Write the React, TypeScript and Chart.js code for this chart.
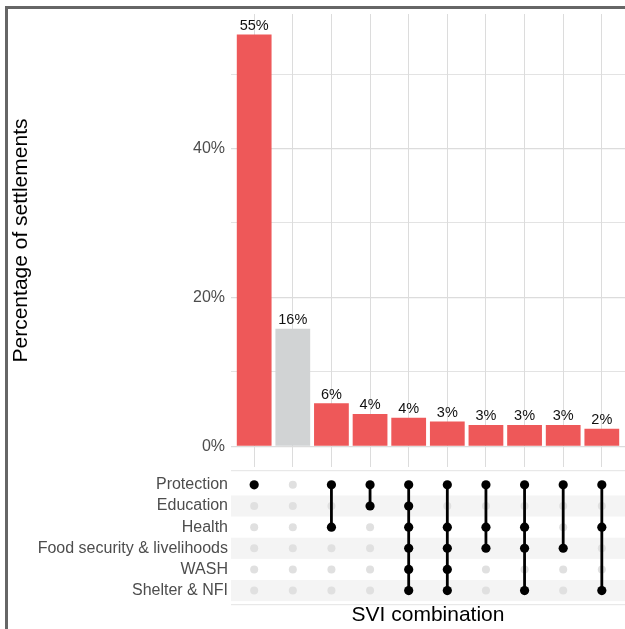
import React, { useEffect, useRef } from "react";
import { Chart, registerables } from "chart.js";

Chart.register(...registerables);

// Share of settlements for each SVI combination (%)
const shares = [55.3, 15.8, 5.8, 4.35, 3.85, 3.36, 2.87, 2.87, 2.87, 2.38];

// Sectors shown as rows of the combination matrix (top to bottom)
const sectors = [
  "Protection",
  "Education",
  "Health",
  "Food security & livelihoods",
  "WASH",
  "Shelter & NFI",
];

// Sectors making up each combination, in bar order
const combos: string[][] = [
  ["Protection"],
  [],
  ["Protection", "Health"],
  ["Protection", "Education"],
  ["Protection", "Education", "Health", "Food security & livelihoods", "WASH", "Shelter & NFI"],
  ["Protection", "Health", "Food security & livelihoods", "WASH", "Shelter & NFI"],
  ["Protection", "Health", "Food security & livelihoods"],
  ["Protection", "Health", "Food security & livelihoods", "Shelter & NFI"],
  ["Protection", "Food security & livelihoods"],
  ["Protection", "Health", "Shelter & NFI"],
];

// Y-axis ticks (%): gridlines every 10, labels every 20
const yGridTicks = [0, 10, 20, 30, 40, 50];
const yLabelTicks = [0, 20, 40];

const FONT = "'Liberation Sans', Arial, Helvetica, sans-serif";
const RED = "#EE5859";
const GREY = "#D1D3D4";
const GRID = "#dcdcdc";
const AXIS_TEXT = "#4d4d4d";

const WIDTH = 625;
const BAR_H = 467;
const MATRIX_H = 162;
const AXIS_W = 231;

const positions = shares.map((_, i) => i + 1);
const X_MIN = 0.4;
const X_MAX = shares.length + 0.6;
const yTop = Math.max(...shares);
const yPad = yTop * 0.05;

const valueLabels = {
  id: "valueLabels",
  afterDatasetsDraw(chart: any) {
    const ctx = chart.ctx;
    const meta = chart.getDatasetMeta(0);
    ctx.save();
    ctx.font = `14.5px ${FONT}`;
    ctx.fillStyle = "#111";
    ctx.textAlign = "center";
    ctx.textBaseline = "alphabetic";
    meta.data.forEach((el: any, i: number) => {
      ctx.fillText(`${Math.round(shares[i])}%`, el.x, el.y - 4.6);
    });
    ctx.restore();
  },
};

const matrixBands = {
  id: "matrixBands",
  beforeDatasetsDraw(chart: any) {
    const { ctx, chartArea } = chart;
    const ys = chart.scales.y;
    ctx.save();
    ctx.fillStyle = "#f4f4f4";
    sectors.forEach((_, i) => {
      const row = i + 1;
      if (row % 2 === 0) {
        const a = ys.getPixelForValue(row - 0.5);
        const b = ys.getPixelForValue(row + 0.5);
        ctx.fillRect(chartArea.left, Math.min(a, b), chartArea.right - chartArea.left, Math.abs(b - a));
      }
    });
    ctx.strokeStyle = "#e3e3e3";
    ctx.lineWidth = 1;
    ctx.beginPath();
    ctx.moveTo(chartArea.left, chartArea.top);
    ctx.lineTo(chartArea.right, chartArea.top);
    ctx.moveTo(chartArea.left, chartArea.bottom);
    ctx.lineTo(chartArea.right, chartArea.bottom);
    ctx.stroke();
    ctx.restore();
  },
};

function BarPanel() {
  const ref = useRef<HTMLCanvasElement>(null);
  useEffect(() => {
    const chart = new Chart(ref.current!, {
      type: "bar",
      data: {
        datasets: [
          {
            data: shares.map((v, i) => ({ x: positions[i], y: v })),
            backgroundColor: combos.map((c) => (c.length ? RED : GREY)),
            borderWidth: 0,
            categoryPercentage: 1,
            barPercentage: 0.9,
          },
        ],
      },
      options: {
        responsive: false,
        animation: false,
        layout: { autoPadding: false, padding: { top: 14, left: 0, right: 0, bottom: 0 } },
        plugins: { legend: { display: false }, tooltip: { enabled: false } },
        scales: {
          x: {
            type: "linear",
            min: X_MIN,
            max: X_MAX,
            offset: false,
            afterBuildTicks: (s: any) => {
              s.ticks = positions.map((v) => ({ value: v }));
            },
            ticks: { display: false },
            grid: { color: GRID, lineWidth: 1, drawTicks: false, offset: false },
            border: { display: false },
            afterFit: (s: any) => {
              s.height = 0;
              s.paddingLeft = 0;
              s.paddingRight = 0;
            },
          },
          y: {
            type: "linear",
            min: -yPad,
            max: yTop + yPad,
            afterBuildTicks: (s: any) => {
              s.ticks = yGridTicks.map((v) => ({ value: v }));
            },
            ticks: {
              padding: 6,
              color: AXIS_TEXT,
              font: { family: FONT, size: 16 },
              callback: (v: any) => (yLabelTicks.includes(Number(v)) ? `${v}%` : ""),
            },
            grid: {
              color: GRID,
              lineWidth: (c: any) => (yLabelTicks.includes(c.tick?.value) ? 1.2 : 0.8),
              drawTicks: false,
            },
            border: { display: false },
            title: {
              display: true,
              text: "Percentage of settlements",
              color: "#000",
              font: { family: FONT, size: 21 },
              padding: { top: 9, bottom: 0 },
            },
            afterFit: (s: any) => {
              s.width = AXIS_W;
              s.paddingTop = 0;
              s.paddingBottom = 0;
            },
          },
        },
      },
      plugins: [valueLabels],
    } as any);
    return () => chart.destroy();
  }, []);
  return (
    <canvas
      ref={ref}
      width={WIDTH}
      height={BAR_H}
      style={{ position: "absolute", left: 0, top: 0, width: WIDTH, height: BAR_H }}
    />
  );
}

function MatrixPanel() {
  const ref = useRef<HTMLCanvasElement>(null);
  useEffect(() => {
    const inactive: { x: number; y: number }[] = [];
    const active: { x: number; y: number }[] = [];
    const links: any[] = [];
    combos.forEach((combo, ci) => {
      const rows: number[] = [];
      sectors.forEach((s, ri) => {
        const pt = { x: positions[ci], y: ri + 1 };
        if (combo.includes(s)) {
          active.push(pt);
          rows.push(ri + 1);
        } else {
          inactive.push(pt);
        }
      });
      if (rows.length > 1) {
        links.push({
          type: "line",
          data: [
            { x: positions[ci], y: Math.min(...rows) },
            { x: positions[ci], y: Math.max(...rows) },
          ],
          borderColor: "#000",
          borderWidth: 2.8,
          pointRadius: 0,
          showLine: true,
          order: 1,
        });
      }
    });

    const chart = new Chart(ref.current!, {
      type: "scatter",
      data: {
        datasets: [
          {
            data: active,
            backgroundColor: "#000",
            borderWidth: 0,
            pointRadius: 4.6,
            order: 0,
          },
          ...links,
          {
            data: inactive,
            backgroundColor: "#e0e0e0",
            borderWidth: 0,
            pointRadius: 4,
            order: 2,
          },
        ],
      },
      options: {
        responsive: false,
        animation: false,
        layout: { autoPadding: false, padding: { top: 3.7, left: 0, right: 0, bottom: 0 } },
        plugins: { legend: { display: false }, tooltip: { enabled: false } },
        scales: {
          x: {
            type: "linear",
            min: X_MIN,
            max: X_MAX,
            offset: false,
            ticks: { display: false },
            grid: { display: false, drawTicks: false },
            border: { display: false },
            title: {
              display: true,
              text: "SVI combination",
              color: "#000",
              font: { family: FONT, size: 21 },
              padding: { top: 0, bottom: 1 },
            },
            afterFit: (s: any) => {
              s.height = 24.3;
              s.paddingLeft = 0;
              s.paddingRight = 0;
            },
          },
          y: {
            type: "linear",
            reverse: true,
            min: 0.33,
            max: sectors.length + 0.67,
            afterBuildTicks: (s: any) => {
              s.ticks = sectors.map((_, i) => ({ value: i + 1 }));
            },
            ticks: {
              padding: 3,
              color: AXIS_TEXT,
              font: { family: FONT, size: 16 },
              callback: (v: any) => sectors[Number(v) - 1] ?? "",
            },
            grid: { display: false, drawTicks: false },
            border: { display: false },
            afterFit: (s: any) => {
              s.width = AXIS_W;
              s.paddingTop = 0;
              s.paddingBottom = 0;
            },
          },
        },
      },
      plugins: [matrixBands],
    } as any);
    return () => chart.destroy();
  }, []);
  return (
    <canvas
      ref={ref}
      width={WIDTH}
      height={MATRIX_H}
      style={{ position: "absolute", left: 0, top: BAR_H, width: WIDTH, height: MATRIX_H }}
    />
  );
}

export default function App() {
  return (
    <div
      style={{
        position: "absolute",
        left: 0,
        top: 0,
        width: WIDTH,
        height: 629,
        overflow: "hidden",
        background: "#fff",
      }}
    >
      <div
        style={{
          position: "absolute",
          left: 5,
          top: 6,
          width: 700,
          height: 700,
          border: "3px solid #666",
          boxSizing: "border-box",
        }}
      />
      <BarPanel />
      <MatrixPanel />
    </div>
  );
}
